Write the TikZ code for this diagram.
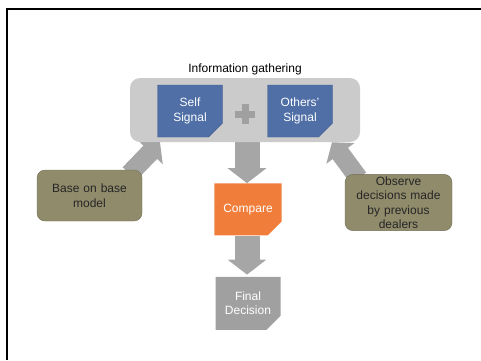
\documentclass[tikz,border=0pt]{standalone}
\usepackage{fontspec}
\setmainfont{Liberation Sans}
\definecolor{steelblue}{RGB}{79,111,166}
\definecolor{flatorange}{RGB}{240,126,58}
\definecolor{midgray}{RGB}{160,160,160}
\definecolor{panelgray}{RGB}{203,203,203}
\definecolor{arrowgray}{RGB}{166,166,166}
\definecolor{khaki}{RGB}{143,139,107}
\usepackage{tikz}
\usetikzlibrary{calc, positioning, arrows.meta, shapes.misc, backgrounds}

\begin{document}
\begin{tikzpicture}[
    x=1pt, y=1pt,
    txt/.style={font=\fontsize{12}{14.5}\selectfont, align=center},
    note/.style={txt, chamfered rectangle, chamfered rectangle corners=south east,
      chamfered rectangle xsep=7pt, chamfered rectangle ysep=7pt,
      minimum width=65pt, minimum height=52pt, inner sep=2pt, text=white,
      path picture={\fill[black!35] ([xshift=-7pt]path picture bounding box.south east)
        -- ++(7pt,7pt) -- ++(-7pt,0pt) -- cycle;}},
    panel/.style={fill=panelgray, rounded corners=10pt,
      minimum width=230pt, minimum height=64pt},
    source/.style={txt, fill=khaki, draw=khaki!80!black, rounded corners=8pt,
      text=black!85, text width=100pt, inner sep=2pt},
    bigarrow/.style={draw=arrowgray, line width=25pt, -{Triangle[length=15pt, width=38pt]}},
    diagarrow/.style={draw=arrowgray, line width=19pt, -{Triangle[length=14pt, width=34pt]}},
    node distance=41pt,
  ]
    \useasboundingbox (0,0) rectangle (481,-360);
    \draw[line width=1.6pt] (7,-360) -- (7,-9) -- (481,-9);

    \node[panel] (info) at (245,-110) {};
    \node[txt, inner sep=0pt, above=3pt of info] (title) {Information gathering};
    \node[note, fill=steelblue, draw=steelblue!85!black] (self)
      at ([xshift=-55pt,yshift=-1pt]info.center) {Self\\Signal};
    \node[note, fill=steelblue, draw=steelblue!85!black] (others)
      at ([xshift=55pt,yshift=-1pt]info.center) {Others'\\Signal};
    \coordinate (plus) at ([yshift=-4pt]info.center);
    \draw[line width=7pt, midgray] ([xshift=-10pt]plus) -- ([xshift=10pt]plus)
      ([yshift=-10pt]plus) -- ([yshift=10pt]plus);

    \node[note, fill=flatorange, below=of info, xshift=3pt] (compare) {Compare};
    \node[note, fill=midgray, minimum height=53pt, below=of compare] (final) {Final\\Decision};

    \node[source, minimum width=105pt, minimum height=51pt] (base) at (89.5,-195.5)
      {Base on base\\model};
    \node[source, minimum width=107pt, minimum height=55pt] (obs) at (398.5,-202.5)
      {Observe\\decisions made\\by previous\\dealers};

    \begin{scope}[on background layer]
      \draw[bigarrow] ([xshift=2pt]info.south) -- ([xshift=-1pt]compare.north);
      \draw[bigarrow] ([xshift=-1pt]compare.south) -- ([xshift=-1pt,yshift=2pt]final.north);
      \draw[diagarrow] ([xshift=40pt,yshift=-4pt]base.north) -- ([xshift=-85pt]info.south);
      \draw[diagarrow] ([xshift=-40pt,yshift=-4pt]obs.north) -- ([xshift=87pt]info.south);
    \end{scope}
  \end{tikzpicture}
\end{document}
